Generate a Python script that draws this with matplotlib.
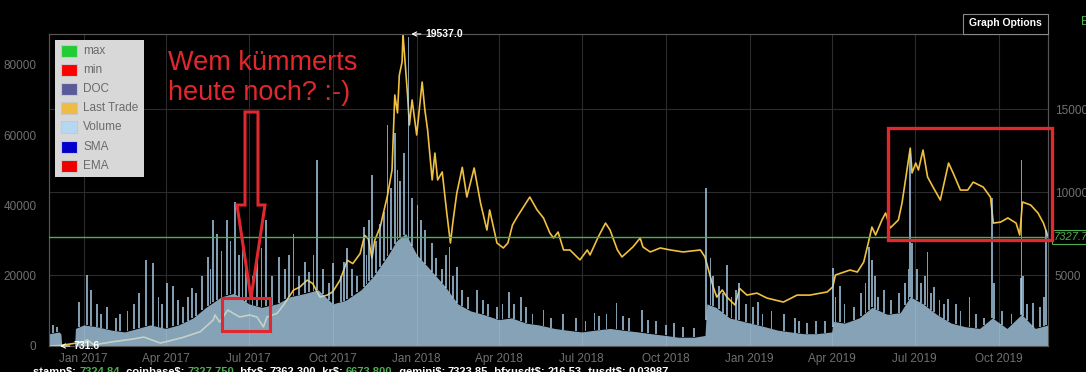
import numpy as np
import pandas as pd
import matplotlib
matplotlib.use("Agg")
import matplotlib.pyplot as plt
import matplotlib.dates as mdates
from matplotlib.patches import Polygon, Rectangle

plt.rcParams['font.family'] = ['Liberation Sans', 'DejaVu Sans']

# last trade (right axis)
price_dates = [
    "2016-11-24", "2016-12-06", "2016-12-23", "2017-01-01", "2017-01-05", "2017-01-12",
    "2017-02-01", "2017-02-24", "2017-03-08", "2017-03-26", "2017-04-02", "2017-04-20",
    "2017-05-09", "2017-05-23", "2017-05-25", "2017-05-30", "2017-06-08", "2017-06-14",
    "2017-06-21", "2017-07-02", "2017-07-10", "2017-07-17", "2017-07-21", "2017-08-01",
    "2017-08-08", "2017-08-19", "2017-08-26", "2017-09-03", "2017-09-09", "2017-09-17",
    "2017-09-25", "2017-10-01", "2017-10-09", "2017-10-17", "2017-10-23", "2017-10-31",
    "2017-11-05", "2017-11-09", "2017-11-13", "2017-11-16", "2017-11-22", "2017-11-30",
    "2017-12-03", "2017-12-05", "2017-12-08", "2017-12-11", "2017-12-13", "2017-12-16",
    "2017-12-17", "2017-12-22", "2017-12-24", "2017-12-27", "2018-01-01", "2018-01-07",
    "2018-01-10", "2018-01-13", "2018-01-18", "2018-01-21", "2018-01-24", "2018-01-29",
    "2018-02-03", "2018-02-07", "2018-02-10", "2018-02-14", "2018-02-20", "2018-02-25",
    "2018-03-05", "2018-03-12", "2018-03-19", "2018-03-22", "2018-03-30", "2018-04-06",
    "2018-04-11", "2018-04-16", "2018-04-21", "2018-04-28", "2018-05-05", "2018-05-13",
    "2018-05-20", "2018-05-27", "2018-05-31", "2018-06-05", "2018-06-11", "2018-06-18",
    "2018-06-29", "2018-07-07", "2018-07-10", "2018-07-19", "2018-07-27", "2018-08-01",
    "2018-08-09", "2018-08-14", "2018-08-26", "2018-09-03", "2018-09-06", "2018-09-14",
    "2018-09-25", "2018-10-06", "2018-10-20", "2018-11-08", "2018-11-13", "2018-11-19",
    "2018-11-22", "2018-11-26", "2018-12-02", "2018-12-07", "2018-12-16", "2018-12-21",
    "2018-12-29", "2019-01-09", "2019-01-20", "2019-02-07", "2019-02-22", "2019-03-08",
    "2019-03-27", "2019-04-02", "2019-04-05", "2019-04-21", "2019-04-29", "2019-05-06",
    "2019-05-11", "2019-05-15", "2019-05-19", "2019-05-26", "2019-05-30", "2019-06-04",
    "2019-06-13", "2019-06-17", "2019-06-26", "2019-06-28", "2019-07-02", "2019-07-05",
    "2019-07-10", "2019-07-15", "2019-07-21", "2019-07-29", "2019-08-07", "2019-08-12",
    "2019-08-20", "2019-08-28", "2019-09-03", "2019-09-14", "2019-09-22", "2019-09-25",
    "2019-10-03", "2019-10-11", "2019-10-20", "2019-10-24", "2019-10-27", "2019-11-05",
    "2019-11-13", "2019-11-19", "2019-11-24",
]
price = [
    731.6, 760, 900, 990, 1100, 800,
    980, 1150, 1270, 910, 1000, 1250,
    1600, 2300, 2600, 2170, 2900, 2700,
    2480, 2600, 2480, 1880, 2480, 2700,
    3200, 4100, 4290, 4700, 4500, 3680,
    3800, 4000, 4700, 5900, 5700, 6300,
    7400, 7200, 6030, 7100, 7900, 9800,
    10740, 11340, 15860, 14780, 17060, 17850,
    19537.0, 15860, 14050, 15560, 13450, 16640,
    14950, 13750, 10740, 12360, 10740, 11220,
    8750, 6940, 8330, 9950, 11500, 9710,
    11460, 9350, 7720, 8930, 6940, 6640,
    6940, 8020, 8500, 9110, 9710, 8930,
    8450, 7540, 7240, 7600, 6520, 6520,
    5920, 6520, 6220, 7300, 8140, 7720,
    6520, 6100, 6700, 7240, 6700, 6400,
    6640, 6520, 6400, 6520, 6100, 4890,
    4290, 3680, 4110, 3680, 3200, 4200,
    3800, 3920, 3620, 3380, 3800, 3800,
    3990, 4290, 5010, 5310, 5190, 5790,
    6940, 7900, 7420, 8330, 8750, 7840,
    8330, 9350, 12660, 11160, 11760, 11340,
    12540, 10920, 10310, 9530, 11760, 11160,
    10130, 10130, 10610, 10310, 9700, 8140,
    8200, 8450, 8140, 7420, 9410, 9230,
    8750, 8140, 7327.7,
]

# volume body (left axis)
vol_dates = [
    "2016-11-24", "2016-12-05", "2016-12-07", "2016-12-08", "2016-12-22", "2016-12-23",
    "2017-01-01", "2017-01-15", "2017-02-01", "2017-02-15", "2017-03-01", "2017-03-15",
    "2017-04-01", "2017-04-15", "2017-05-01", "2017-05-15", "2017-06-01", "2017-06-15",
    "2017-07-01", "2017-07-15", "2017-08-01", "2017-08-15", "2017-09-01", "2017-09-15",
    "2017-10-01", "2017-10-15", "2017-11-01", "2017-11-15", "2017-12-01", "2017-12-10",
    "2017-12-20", "2018-01-01", "2018-01-15", "2018-02-01", "2018-02-15", "2018-03-01",
    "2018-03-15", "2018-04-01", "2018-04-15", "2018-05-01", "2018-05-15", "2018-06-01",
    "2018-06-15", "2018-07-01", "2018-07-15", "2018-08-01", "2018-08-15", "2018-09-01",
    "2018-09-15", "2018-10-01", "2018-10-15", "2018-11-01", "2018-11-13", "2018-11-15",
    "2018-11-25", "2018-12-10", "2018-12-25", "2019-01-10", "2019-02-01", "2019-02-15",
    "2019-03-01", "2019-03-15", "2019-04-01", "2019-04-03", "2019-04-15", "2019-05-01",
    "2019-05-15", "2019-06-01", "2019-06-15", "2019-06-26", "2019-07-10", "2019-07-25",
    "2019-08-10", "2019-08-25", "2019-09-10", "2019-09-24", "2019-10-10", "2019-10-26",
    "2019-11-10", "2019-11-24",
]
vol_base = [
    3500, 4000, 3500, 0, 0, 5000,
    6000, 5500, 4500, 4000, 5000, 6000,
    5000, 6000, 8000, 11000, 14000, 15000,
    12000, 11000, 12000, 14000, 15000, 16000,
    12000, 13000, 16000, 20000, 26000, 30000,
    32000, 26000, 22000, 17000, 12000, 10000,
    9000, 7500, 8000, 6500, 6000, 5000,
    4500, 4000, 4500, 5000, 4500, 4000,
    3500, 3000, 2500, 2500, 3000, 12000,
    11000, 8000, 7000, 6000, 4500, 4000,
    3500, 3500, 4000, 7000, 6500, 8000,
    11000, 9000, 9500, 14000, 12000, 9000,
    6500, 5500, 5000, 8000, 5000, 9000,
    5000, 6000,
]

# single-day volume spikes
spike_dates = [
    "2016-11-28", "2016-12-03", "2016-12-27", "2017-01-05", "2017-01-09", "2017-01-16",
    "2017-01-20", "2017-01-27", "2017-02-05", "2017-02-10", "2017-02-18", "2017-02-25",
    "2017-03-03", "2017-03-10", "2017-03-18", "2017-03-24", "2017-03-28", "2017-04-02",
    "2017-04-09", "2017-04-14", "2017-04-20", "2017-04-25", "2017-04-30", "2017-05-04",
    "2017-05-11", "2017-05-17", "2017-05-20", "2017-05-23", "2017-05-27", "2017-06-01",
    "2017-06-07", "2017-06-11", "2017-06-16", "2017-06-20", "2017-06-24", "2017-06-28",
    "2017-07-05", "2017-07-10", "2017-07-15", "2017-07-20", "2017-07-26", "2017-08-03",
    "2017-08-10", "2017-08-14", "2017-08-19", "2017-08-25", "2017-09-01", "2017-09-05",
    "2017-09-10", "2017-09-14", "2017-09-20", "2017-09-27", "2017-10-01", "2017-10-10",
    "2017-10-13", "2017-10-17", "2017-10-22", "2017-10-28", "2017-11-04", "2017-11-07",
    "2017-11-10", "2017-11-13", "2017-11-17", "2017-11-22", "2017-11-26", "2017-11-30",
    "2017-12-04", "2017-12-08", "2017-12-11", "2017-12-14", "2017-12-18", "2017-12-23",
    "2017-12-27", "2018-01-02", "2018-01-06", "2018-01-10", "2018-01-18", "2018-01-22",
    "2018-01-29", "2018-02-02", "2018-02-06", "2018-02-10", "2018-02-14", "2018-02-20",
    "2018-02-26", "2018-03-08", "2018-03-15", "2018-03-20", "2018-03-30", "2018-04-05",
    "2018-04-12", "2018-04-18", "2018-04-25", "2018-05-01", "2018-05-08", "2018-05-20",
    "2018-05-28", "2018-06-10", "2018-06-25", "2018-07-05", "2018-07-15", "2018-07-20",
    "2018-07-28", "2018-08-08", "2018-08-15", "2018-08-22", "2018-09-05", "2018-09-12",
    "2018-09-20", "2018-10-01", "2018-10-10", "2018-10-20", "2018-11-01", "2018-11-14",
    "2018-11-19", "2018-11-22", "2018-11-28", "2018-12-03", "2018-12-07", "2018-12-12",
    "2018-12-17", "2018-12-20", "2018-12-28", "2019-01-05", "2019-01-10", "2019-01-15",
    "2019-01-25", "2019-02-08", "2019-02-20", "2019-02-24", "2019-03-05", "2019-03-15",
    "2019-03-25", "2019-04-02", "2019-04-05", "2019-04-10", "2019-04-15", "2019-04-25",
    "2019-05-03", "2019-05-08", "2019-05-12", "2019-05-15", "2019-05-18", "2019-05-22",
    "2019-05-28", "2019-06-05", "2019-06-14", "2019-06-20", "2019-06-24", "2019-06-26",
    "2019-06-28", "2019-07-03", "2019-07-08", "2019-07-12", "2019-07-15", "2019-07-19",
    "2019-07-22", "2019-07-28", "2019-08-02", "2019-08-06", "2019-08-15", "2019-08-20",
    "2019-08-30", "2019-09-06", "2019-09-15", "2019-09-24", "2019-09-26", "2019-10-05",
    "2019-10-15", "2019-10-25", "2019-10-26", "2019-10-28", "2019-11-01", "2019-11-08",
    "2019-11-15", "2019-11-20", "2019-11-22",
]
spike_vol = [
    6000, 5500, 12500, 20200, 16000, 12000,
    9000, 11000, 8000, 9000, 10000, 12000,
    15000, 24500, 23600, 14000, 12000, 18000,
    17000, 13000, 11000, 14000, 16500, 15000,
    20000, 25300, 22000, 35900, 32000, 27000,
    35900, 30000, 41000, 26000, 30000, 22000,
    20000, 24000, 28000, 35900, 20000, 25300,
    22000, 26000, 32000, 20000, 24000, 21000,
    26000, 52900, 22000, 18000, 23600, 20000,
    24000, 28000, 22000, 20000, 34000, 26000,
    35900, 48700, 30000, 34700, 38000, 62900,
    45000, 60600, 50000, 47000, 55000, 88000,
    42000, 40000, 36000, 33000, 29300, 25000,
    22000, 26000, 28200, 20000, 22500, 16000,
    14000, 16000, 13000, 12000, 11000, 12000,
    15300, 12000, 14000, 11000, 9000, 10200,
    8000, 9000, 8000, 7000, 9400, 8500,
    9000, 12200, 8500, 8000, 10200, 7500,
    7000, 6000, 6500, 5500, 5000, 45000,
    25000, 20000, 17000, 15000, 23000, 14000,
    16000, 18000, 12000, 11000, 12500, 9000,
    10000, 9000, 8000, 7000, 6500, 7000,
    7000, 22200, 14000, 17000, 12000, 11000,
    15000, 18000, 28200, 24500, 20000, 14000,
    16000, 13000, 15000, 18000, 22000, 55000,
    29300, 22000, 18000, 20000, 26700, 15000,
    16800, 13000, 12000, 13500, 12000, 10000,
    14000, 9000, 8000, 42000, 18000, 10000,
    9000, 19300, 53000, 20000, 12000, 12200,
    11000, 14000, 33000,
]

W, H = 1086, 372
vol_color = '#b3d9f5'
grey_txt = '#707070'
red = '#e0282e'
green = '#4caf50'


def px(x, y):
    return x / W, 1 - y / H


p_dates = mdates.date2num(pd.to_datetime(price_dates))
v_dates = mdates.date2num(pd.to_datetime(vol_dates))
s_dates = mdates.date2num(pd.to_datetime(spike_dates))

fig = plt.figure(figsize=(W / 100, H / 100), dpi=100, facecolor='black')
ax = fig.add_axes([49 / W, 26 / H, 999 / W, 312 / H])
ax.set_facecolor('black')
ax_vol = ax.twinx()

# price on the right axis, under the volume bars
ax.plot(p_dates, price, color='#f0c040', lw=1.2, zorder=3)
ax.yaxis.tick_right()
ax.set_ylim(min(price), max(price))
ax.set_yticks([5000, 10000, 15000])
ax.grid(True, color='#2c2c2c', lw=0.8)

# volume on the left axis: body plus the spikes standing on it
ax_vol.fill_between(v_dates, 0, vol_base, color=vol_color, alpha=0.75, lw=0)
spike_floor = np.interp(s_dates, v_dates, vol_base)
spike_h = np.clip(np.array(spike_vol) - spike_floor, 0, None)
ax_vol.bar(s_dates, spike_h, bottom=spike_floor, width=2.0, color=vol_color,
           alpha=0.72, lw=0)
ax_vol.yaxis.tick_left()
ax_vol.set_ylim(0, 88800)
ax_vol.set_yticks([0, 20000, 40000, 60000, 80000])

ax.set_xlim(mdates.date2num(pd.Timestamp("2016-11-24")),
            mdates.date2num(pd.Timestamp("2019-11-24")))
ax.xaxis.set_major_locator(mdates.MonthLocator(bymonth=[1, 4, 7, 10]))
ax.xaxis.set_major_formatter(mdates.DateFormatter('%b %Y'))

for a in (ax, ax_vol):
    a.tick_params(length=0, labelsize=8.5, labelcolor=grey_txt)
    for s in a.spines.values():
        s.set_color('#555555')
ax.tick_params(axis='y', pad=5)
ax_vol.tick_params(axis='y', pad=9)
ax.tick_params(axis='x', pad=5)

# current price line
last = price[-1]
ax_vol.plot([p_dates[0], p_dates[-1]], [last, last], transform=ax.transData,
            color=green, lw=1, zorder=5)
fig.text(*px(1054, 237), f"{last:.1f}", color=green, fontsize=8, style='italic',
         va='center', ha='left',
         bbox=dict(boxstyle='square,pad=0.15', fc='black', ec=green, lw=0.8))

# max / min markers
imax = int(np.argmax(price))
imin = int(np.argmin(price))
ax_vol.annotate(f"{price[imax]:.1f}", xy=(p_dates[imax], price[imax]),
                xycoords=ax.transData, xytext=(22, 0), textcoords='offset pixels',
                color='white', fontsize=7.5, fontweight='bold', va='center',
                arrowprops=dict(arrowstyle='->', color='white', lw=0.8,
                                shrinkA=1, shrinkB=6))
ax_vol.annotate(f"{price[imin]:.1f}", xy=(p_dates[imin], price[imin]),
                xycoords=ax.transData, xytext=(25, 0), textcoords='offset pixels',
                color='white', fontsize=7.5, fontweight='bold', va='center',
                arrowprops=dict(arrowstyle='->', color='white', lw=0.8,
                                shrinkA=1, shrinkB=8))

# legend box
fig.patches.append(Rectangle(px(55, 177), 89 / W, 137 / H, transform=fig.transFigure,
                             fc='#d8d8d8', ec='none', zorder=10))
leg_names = ['max', 'min', 'DOC', 'Last Trade', 'Volume', 'SMA', 'EMA']
leg_colors = ['#22cc33', '#ff0000', '#5a5a9a', '#eebb44', '#b5d8f2', '#0000cc', '#ee0000']
for i, (n, c) in enumerate(zip(leg_names, leg_colors)):
    y = 51 + 19.1 * i
    fig.patches.append(Rectangle(px(61, y + 6), 16 / W, 12 / H, transform=fig.transFigure,
                                 fc=c, ec='#c8c8c8', lw=0.8, zorder=11))
    fig.text(*px(83, y), n, color='#6b6b6b', fontsize=8.5, va='center', zorder=12)

# Graph Options button
fig.patches.append(Rectangle(px(963, 34), 85 / W, 20 / H, transform=fig.transFigure,
                             fc='black', ec='#888888', lw=0.8, zorder=10))
fig.text(*px(1005, 23), "Graph Options", color='white', fontsize=7.5, fontweight='bold',
         ha='center', va='center', zorder=11)
fig.text(*px(1081, 22), "E", color=green, fontsize=9, va='center', ha='left')

# red annotations
fig.text(*px(168, 70), "Wem kümmerts", color=red, fontsize=19.5, va='baseline')
fig.text(*px(168, 100), "heute noch? :-)", color=red, fontsize=19.5, va='baseline')
arrow_pts = [(245, 112), (258, 112), (258, 205), (265, 205), (251, 298), (237, 205), (245, 205)]
fig.patches.append(Polygon([px(x, y) for x, y in arrow_pts], closed=True,
                           transform=fig.transFigure, fill=False, ec=red, lw=2.2, zorder=20))
fig.patches.append(Rectangle(px(222, 331), 48 / W, 33 / H, transform=fig.transFigure,
                             fill=False, ec=red, lw=2.2, zorder=20))
fig.patches.append(Rectangle(px(888, 240), 164 / W, 112 / H, transform=fig.transFigure,
                             fill=False, ec=red, lw=2.4, zorder=20))

# exchange ticker line, cut off by the bottom edge as in the screenshot
ticker = [("stamp$: ", 'white'), ("7324.84", green), (", coinbase$: ", 'white'),
          ("7327.750", green), (", bfx$: ", 'white'), ("7362.300", 'white'),
          (", kr$: ", 'white'), ("6673.800", green), (", gemini$: ", 'white'),
          ("7323.85", 'white'), (", bfxusdt$: ", 'white'), ("216.53", 'white'),
          (", tusdt$: ", 'white'), ("0.03987", 'white')]
prev = fig.text(33 / W, -3 / H, ticker[0][0], color=ticker[0][1], fontsize=8,
                fontweight='bold', va='baseline')
for txt, col in ticker[1:]:
    prev = ax_vol.annotate(txt, xy=(1, 0), xycoords=prev, xytext=(0, 0),
                           textcoords='offset points', color=col, fontsize=8,
                           fontweight='bold', va='bottom', annotation_clip=False)

fig.savefig("out.png", dpi=100, facecolor='black')
